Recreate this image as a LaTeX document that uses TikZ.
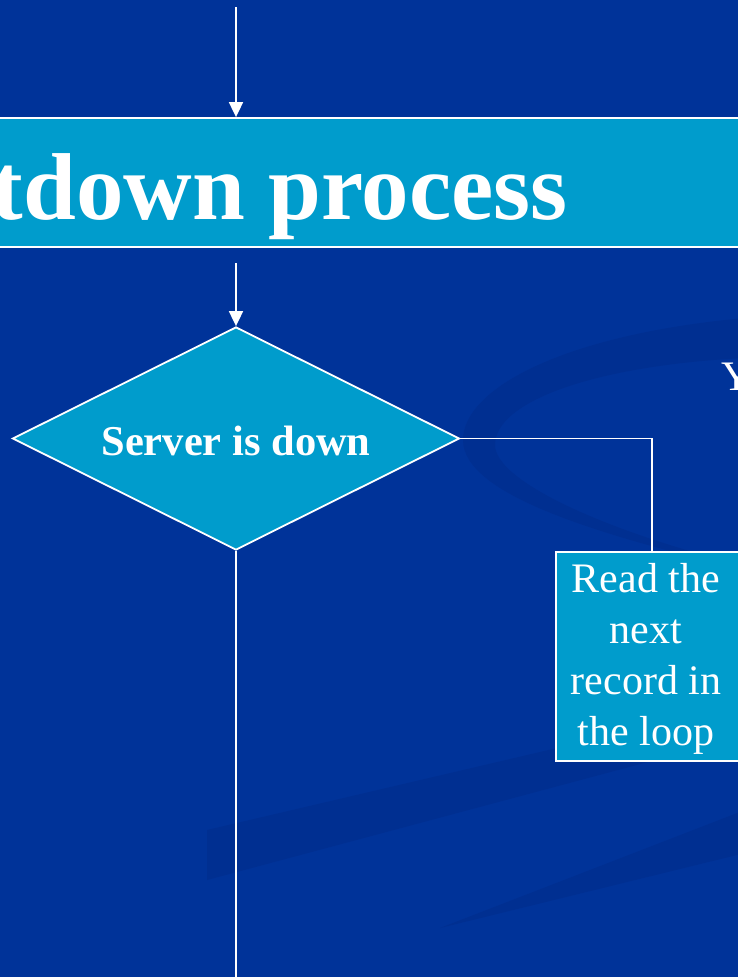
\documentclass[tikz,border=0pt]{standalone}
\usepackage{fontspec}
\setmainfont{Liberation Serif}
\usetikzlibrary{arrows.meta,shapes.geometric}
\definecolor{bgblue}{RGB}{0,51,153}
\definecolor{swoosh}{RGB}{0,47,145}
\definecolor{boxcyan}{RGB}{0,156,204}
\begin{document}
\begin{tikzpicture}[x=1pt,y=-1pt,
  conn/.style={draw=white,line width=1.8pt},
  arr/.style={conn,-{Triangle[length=15pt,width=14pt]}},
  flowbox/.style={draw=white,line width=1.8pt,fill=boxcyan,inner sep=0pt},
  lbl/.style={text=white,inner sep=0pt}]
\useasboundingbox (0,0) rectangle (738,977);
\clip (0,0) rectangle (738,977);
% background
\fill[bgblue] (-5,-5) rectangle (745,985);
% background swooshes
\fill[swoosh] (745,318) .. controls (560,335) and (463,390) .. (463,440)
  .. controls (463,495) and (600,535) .. (745,570) -- (745,566)
  .. controls (600,530) and (495,480) .. (495,445)
  .. controls (495,400) and (600,365) .. (745,358) -- cycle;
\fill[swoosh] (207,830) -- (745,704) -- (745,736) -- (207,880) -- cycle;
\fill[swoosh] (745,810) -- (440,928) -- (745,853) -- cycle;
% title bar
\node[flowbox, rectangle, minimum width=800pt, minimum height=129pt] (bar) at (369,182.5) {};
\node[lbl, anchor=base east, font=\bfseries\fontsize{95}{100}\selectfont] (title) at (568,219) {tdown process};
% decision
\node[flowbox, diamond, minimum width=447pt, minimum height=223pt] (dia) at (236,438.5) {};
\node[lbl, anchor=base, font=\bfseries\fontsize{42.5}{51}\selectfont] (dialbl) at (236,455) {Server is down};
% process box
\node[flowbox, rectangle, minimum width=184pt, minimum height=209pt, anchor=north west] (box) at (555,551) {};
\node[lbl, align=center, font=\fontsize{42}{51}\selectfont] (boxtext) at (646,659) {Read the\\next\\record in\\the loop};
% branch label
\node[lbl, anchor=base west, font=\fontsize{42}{51}\selectfont] (yes) at (721,390) {Y};
% connectors
\coordinate (top0) at (236,7);
\draw[arr] (top0) -- (top0 |- bar.north);
\coordinate (mid0) at (236,263);
\draw[arr] (mid0) -- (dia.north);
\coordinate (turn) at (652,438.5);
\draw[conn] (dia.east) -- (turn) -- (turn |- box.north);
\coordinate (bot0) at (236,990);
\draw[conn] (dia.south) -- (bot0);
\end{tikzpicture}
\end{document}
